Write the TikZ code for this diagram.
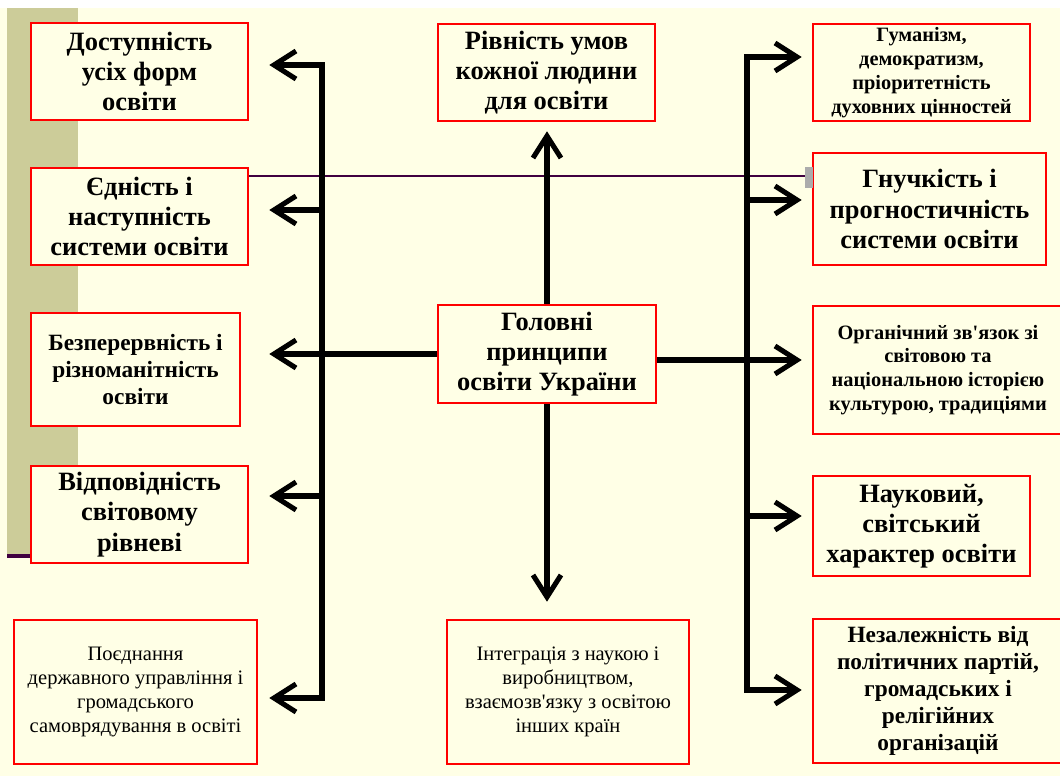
\documentclass[tikz,border=0pt]{standalone}
\usepackage{fontspec}
\setmainfont{Liberation Serif}
\usetikzlibrary{arrows.meta}
\definecolor{bgcream}{RGB}{255,255,230}
\definecolor{stripcol}{RGB}{204,204,153}
\definecolor{plumline}{RGB}{64,0,64}
\newcommand\apos{{\addfontfeatures{Ligatures=TeXOff}'}}

\begin{document}
\begin{tikzpicture}[x=0.025cm, y=-0.025cm,
             every node/.style = {draw=red, line width=1.8pt, fill=bgcream, shape=rectangle,
                                  inner sep=0pt, align=center,
                                  font=\bfseries\fontsize{18.8}{21.5}\selectfont},
             sz/.style 2 args = {minimum width=#1*0.025cm, minimum height=#2*0.025cm},
             mid/.style = {font=\bfseries\fontsize{16.6}{19.2}\selectfont},
             small/.style = {font=\bfseries\fontsize{14.5}{17}\selectfont},
             plain/.style = {font=\fontsize{14.6}{17.2}\selectfont},
             trunk/.style = {line width=3.6pt, line cap=rect},
             arr/.style = {line width=3.6pt, -{Straight Barb[length=5.5mm, width=7mm]}}]
\clip (0,0) rectangle (1060,776);
\fill [white] (0,0) rectangle (1060,776);
\fill [bgcream] (0,8) rectangle (1060,776);
\fill [stripcol] (7,8) rectangle (78,556);
\fill [plumline] (7,554) rectangle (31,558);

\node [sz={217}{97}] (dost) at (139.5,71.5) {Доступність\\усіх форм\\освіти};
\node [sz={217}{97}] (yedn) at (139.5,216.5) {Єдність і\\наступність\\системи освіти};
\node [sz={209}{113}, mid] (bezp) at (135.5,369.5) {Безперервність і\\різноманітність\\освіти};
\node [sz={217}{97}] (vidp) at (139.5,514.5) {Відповідність\\світовому\\рівневі};
\node [sz={243}{144}, plain] (poed) at (135.5,692) {Поєднання\\державного управління і\\громадського\\самоврядування в освіті};

\node [sz={217}{97}] (rivn) at (546.5,72.5) {Рівність умов\\кожної людини\\для освіти};
\node [sz={218}{98}] (main) at (547,354) {Головні\\принципи\\освіти України};
\node [sz={242}{144}, plain] (integ) at (568,692) {Інтеграція з наукою і\\виробництвом,\\взаємозв\apos язку з освітою\\інших країн};

\node [sz={217}{97}, small] (hum) at (921.5,72.5) {Гуманізм,\\демократизм,\\пріоритетність\\духовних цінностей};
\node [sz={233}{112}] (hnuch) at (929.5,209) {Гнучкість і\\прогностичність\\системи освіти};
\node [sz={250}{128}, small] (orh) at (938,370) {Органічний зв\apos язок зі\\світовою та\\національною історією\\культурою, традиціями};
\node [sz={217}{100}] (nauk) at (921.5,526) {Науковий,\\світський\\характер освіти};
\node [sz={250}{144}, mid] (nezal) at (938,691) {Незалежність від\\політичних партій,\\громадських і\\релігійних\\організацій};

\draw [plumline, line width=1pt] (yedn.east |- 0,176) -- (806,176);
\fill [gray!65] (805,167) rectangle (813,188);

\coordinate (l1) at (322,65);
\coordinate (l2) at (322,210);
\coordinate (l4) at (322,496);
\coordinate (l5) at (322,698);
\coordinate (r1) at (747,57);
\coordinate (r2) at (747,200);
\coordinate (r4) at (747,516);
\coordinate (r5) at (747,690);

\draw [trunk] (l1) -- (l5);
\draw [trunk] (r1) -- (r5);

\draw [arr, shorten >=0.5cm] (l1) -- (l1 -| dost.east);
\draw [arr, shorten >=0.5cm] (l2) -- (l2 -| yedn.east);
\draw [arr, shorten >=0.7cm] (main.west) -- (main.west -| bezp.east);
\draw [arr, shorten >=0.5cm] (l4) -- (l4 -| vidp.east);
\draw [arr, shorten >=0.275cm] (l5) -- (l5 -| poed.east);

\draw [arr, shorten >=0.25cm] (r1) -- (r1 -| hum.west);
\draw [arr, shorten >=0.25cm] (r2) -- (r2 -| hnuch.west);
\draw [arr, shorten >=0.25cm] ([yshift=-0.15cm] main.east) -- ([yshift=-0.15cm] main.east -| orh.west);
\draw [arr, shorten >=0.25cm] (r4) -- (r4 -| nauk.west);
\draw [arr, shorten >=0.25cm] (r5) -- (r5 -| nezal.west);

\draw [arr, shorten >=0.225cm] (main.north) -- (main.north |- rivn.south);
\draw [arr, shorten >=0.425cm] (main.south) -- (main.south |- integ.north);

\end{tikzpicture}
\end{document}
